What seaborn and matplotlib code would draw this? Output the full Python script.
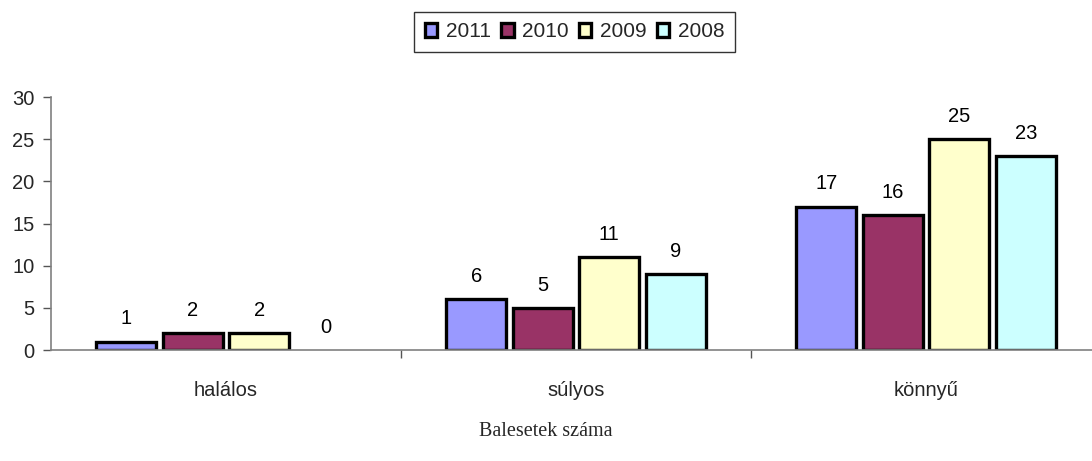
import matplotlib
matplotlib.use("Agg")
import matplotlib.pyplot as plt
from matplotlib.patches import Patch
import seaborn as sns
import pandas as pd

categories = ["halálos", "súlyos", "könnyű"]
years = ["2011", "2010", "2009", "2008"]
v2011 = [1, 6, 17]
v2010 = [2, 5, 16]
v2009 = [2, 11, 25]
v2008 = [0, 9, 23]
colors = ["#9999FF", "#993366", "#FFFFCC", "#CCFFFF"]
title = "Balesetek száma"

series = {"2011": v2011, "2010": v2010, "2009": v2009, "2008": v2008}
rows = []
for y in years:
    for c, v in zip(categories, series[y]):
        rows.append({"cat": c, "year": y, "val": v})
df = pd.DataFrame(rows)

sns.set_theme(style="white")
plt.rcParams["font.family"] = ["Liberation Sans", "DejaVu Sans"]

fig = plt.figure(figsize=(10.92, 4.61), dpi=100)
ax = fig.add_axes([51 / 1092, 111 / 461, 1 - 51 / 1092, 253 / 461])

sns.barplot(data=df, x="cat", y="val", hue="year", hue_order=years,
            order=categories, palette=colors, saturation=1, width=0.76, gap=0.1,
            edgecolor="black", linewidth=2.4, legend=False, ax=ax,
            errorbar=None)

for p in ax.patches:
    if p.get_height() == 0:
        p.set_linewidth(0)

for cont in ax.containers:
    ax.bar_label(cont, fmt="%d", padding=9.5, fontsize=14.5, color="black")

ax.set_ylim(0, 30)
ax.set_yticks([0, 5, 10, 15, 20, 25, 30])
ax.set_xlim(-0.5, -0.5 + 1041 / 350)
ax.set_xlabel("")
ax.set_ylabel("")
ax.set_xticks([0, 1, 2])
ax.set_xticklabels(categories)
ax.set_xticks([0.5, 1.5], minor=True)
ax.tick_params(axis="x", which="major", length=0, pad=22, labelsize=14.5)
ax.tick_params(axis="x", which="minor", length=6, width=1, color="#555555", bottom=True)
ax.tick_params(axis="y", length=6, width=1, color="#555555", left=True, labelsize=14.5, pad=6)
for s in ["top", "right"]:
    ax.spines[s].set_visible(False)
for s in ["left", "bottom"]:
    ax.spines[s].set_color("#808080")
    ax.spines[s].set_linewidth(1.2)

handles = [Patch(facecolor=c, edgecolor="black", linewidth=2.4) for c in colors]
leg = fig.legend(handles, years, loc="upper center", bbox_to_anchor=(574.5 / 1092, 1 - 12 / 461),
                 ncol=4, fontsize=15, frameon=True, fancybox=False, handlelength=0.6,
                 handleheight=0.6, handletextpad=0.4, columnspacing=0.5,
                 borderpad=0.5, borderaxespad=0)
leg.get_frame().set_edgecolor("black")
leg.get_frame().set_linewidth(1)

fig.text(546 / 1092, 1 - 431 / 461, title, ha="center", va="center",
         fontsize=14.5, family=["Liberation Serif", "DejaVu Serif"])

fig.savefig("out.png", dpi=100)
